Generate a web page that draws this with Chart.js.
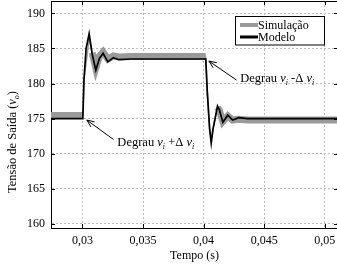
<!DOCTYPE html>
<html>
<head>
<meta charset="utf-8">
<script src="https://cdn.jsdelivr.net/npm/chart.js@4.4.0/dist/chart.umd.min.js"></script>
<style>
  html, body { margin: 0; padding: 0; background: #fff; overflow: hidden; }
  #wrap { width: 340px; height: 268px; }
</style>
</head>
<body>
<div id="wrap"><canvas id="myChart"></canvas></div>
<script>
// values
const timeModel = [0.0270, 0.03003, 0.03012, 0.0303, 0.03055, 0.0308, 0.0311, 0.0314, 0.0317, 0.0321, 0.03255, 0.033, 0.034,
                   0.04018, 0.0403, 0.0405, 0.04063, 0.04078, 0.04115, 0.0413, 0.04159, 0.042, 0.0424, 0.0429, 0.0436, 0.052];
const valuesModel = [175, 175, 180.5, 185, 187.1, 184.2, 181.9, 183.6, 184.3, 183.1, 183.7, 183.4, 183.5,
                     183.5, 179, 173.5, 171.5, 173.5, 176.8, 176.3, 174.5, 175.5, 174.8, 175.15, 175, 175];
const timeSim = [0.0270, 0.03003, 0.03012, 0.03055, 0.0308, 0.0311, 0.0314, 0.0317, 0.0321, 0.03255, 0.033, 0.034,
                 0.04018, 0.0403, 0.0405, 0.04063, 0.04078, 0.04115, 0.0413, 0.04159, 0.042, 0.0424, 0.0429, 0.0436, 0.052];
const valuesSim = [175.45, 175.45, 180.5, 186.4, 184.4, 182.2, 183.9, 184.5, 183.5, 183.95, 183.8, 183.85,
                   183.85, 179, 173.5, 172, 173.6, 176.6, 176.2, 174.6, 175.4, 174.8, 174.9, 174.8, 174.8];
const seriesNames = ['Simulação', 'Modelo'];

const xTicks = [0.03, 0.035, 0.04, 0.045, 0.05];
const xTickLabels = ['0,03', '0,035', '0,04', '0,045', '0,05'];
const yTicks = [160, 165, 170, 175, 180, 185, 190];

// arrows: tip, tail, and where the label starts (data coords)
const arrowTips = [[0.03036, 174.8], [0.04044, 183.2]];
const arrowTails = [[0.03255, 172.05], [0.04272, 180.5]];
const noteAnchors = [[0.03288, 171.1], [0.04303, 180.2]];
const noteSigns = ['+', '-'];

Chart.defaults.font.family = "'Liberation Serif', 'Times New Roman', serif";
Chart.defaults.font.size = 12;
Chart.defaults.color = '#000';

const SERIF = "'Liberation Serif', 'Times New Roman', serif";
const GRAY = '#9a9a9a';

// draw text pieces: n = normal, i = italic, s = italic subscript
function drawRich(c, parts, x, y, measureOnly) {
    let w = 0;
    for (const [txt, kind] of parts) {
        if (kind === 'n') c.font = '12.5px ' + SERIF;
        else if (kind === 'i') c.font = 'italic 12.5px ' + SERIF;
        else c.font = 'italic 8px ' + SERIF;
        if (!measureOnly) c.fillText(txt, x + w, kind === 's' ? y + 3 : y);
        w += c.measureText(txt).width;
    }
    return w;
}

function stepLabel(sign) {
    return [['Degrau ', 'n'], ['v', 'i'], ['i', 's'], [' ' + sign + 'Δ ', 'n'], ['v', 'i'], ['i', 's']];
}

const frame = {
    id: 'frame',
    afterDraw(chart) {
        const c = chart.ctx;
        const a = chart.chartArea;
        const xs = chart.scales.x, ys = chart.scales.y;
        c.save();
        c.strokeStyle = '#000';
        c.lineWidth = 1;
        // top border
        c.beginPath();
        c.moveTo(a.left, a.top + 0.5);
        c.lineTo(a.right, a.top + 0.5);
        c.stroke();
        // inward ticks
        c.beginPath();
        xTicks.forEach(v => {
            const px = Math.round(xs.getPixelForValue(v)) + 0.5;
            c.moveTo(px, a.bottom); c.lineTo(px, a.bottom - 4);
            c.moveTo(px, a.top); c.lineTo(px, a.top + 4);
        });
        yTicks.forEach(v => {
            const py = Math.round(ys.getPixelForValue(v)) + 0.5;
            c.moveTo(a.left, py); c.lineTo(a.left + 4, py);
            c.moveTo(a.right, py); c.lineTo(a.right - 4, py);
        });
        c.stroke();

        // arrows + labels
        c.fillStyle = '#000';
        c.textBaseline = 'alphabetic';
        c.textAlign = 'left';
        for (let k = 0; k < arrowTips.length; k++) {
            const tx = xs.getPixelForValue(arrowTips[k][0]), ty = ys.getPixelForValue(arrowTips[k][1]);
            const sx = xs.getPixelForValue(arrowTails[k][0]), sy = ys.getPixelForValue(arrowTails[k][1]);
            const ang = Math.atan2(ty - sy, tx - sx);
            c.beginPath();
            c.moveTo(sx, sy); c.lineTo(tx, ty);
            c.moveTo(tx - 8 * Math.cos(ang - 0.4), ty - 8 * Math.sin(ang - 0.4));
            c.lineTo(tx, ty);
            c.lineTo(tx - 8 * Math.cos(ang + 0.4), ty - 8 * Math.sin(ang + 0.4));
            c.stroke();
            drawRich(c, stepLabel(noteSigns[k]),
                xs.getPixelForValue(noteAnchors[k][0]), ys.getPixelForValue(noteAnchors[k][1]));
        }

        // legend
        const lx = 235.5, ly = 16.5, lw = 89, lh = 28.5;
        c.fillStyle = '#fff';
        c.fillRect(lx, ly, lw, lh);
        c.strokeRect(lx, ly, lw, lh);
        const dsets = chart.data.datasets;
        [[GRAY, 4, ly + 8.5], ['#000', 3, ly + 20.5]].forEach(([col, w, yy], i) => {
            c.strokeStyle = col;
            c.lineWidth = w;
            c.beginPath();
            c.moveTo(lx + 4.5, yy); c.lineTo(lx + 22.5, yy);
            c.stroke();
            c.fillStyle = '#000';
            c.font = '12px ' + SERIF;
            c.textBaseline = 'middle';
            c.fillText(dsets[i].label, lx + 22.5, yy + 0.5);
        });

        // y title
        const title = [['Tensão de Saída (', 'n'], ['v', 'i'], ['o', 's'], [')', 'n']];
        c.textBaseline = 'alphabetic';
        const tw = drawRich(c, title, 0, 0, true);
        c.translate(16, 142);
        c.rotate(-Math.PI / 2);
        drawRich(c, title, -tw / 2, 0);
        c.restore();
    }
};

function steep(s) {
    return Math.abs(s.p1.y - s.p0.y) > 4.5 * Math.abs(s.p1.x - s.p0.x);
}

const pts = (ts, vs) => ts.map((t, i) => ({ x: t, y: vs[i] }));

new Chart(document.getElementById('myChart'), {
    type: 'line',
    data: {
        datasets: [{
            label: seriesNames[0],
            data: pts(timeSim, valuesSim),
            borderColor: GRAY,
            borderWidth: 7,
            pointRadius: 0,
            order: 2,
            segment: { borderWidth: s => steep(s) ? 1.5 : 7 }
        }, {
            label: seriesNames[1],
            data: pts(timeModel, valuesModel),
            borderColor: '#000',
            borderWidth: 1.7,
            pointRadius: 0,
            order: 1
        }]
    },
    options: {
        animation: false,
        responsive: true,
        maintainAspectRatio: false,
        layout: { padding: { top: 1, right: 2, left: 0, bottom: 0 }, autoPadding: false },
        plugins: { legend: { display: false }, tooltip: { enabled: false } },
        scales: {
            x: {
                type: 'linear',
                min: 0.0274,
                max: 0.0511,
                afterBuildTicks: s => { s.ticks = xTicks.map(v => ({ value: v })); },
                ticks: { callback: (v, i) => xTickLabels[i], maxRotation: 0, autoSkip: false, padding: 6 },
                grid: { color: '#bdbdbd', drawTicks: false },
                border: { color: '#000', width: 1, dash: [2, 2] },
                title: { display: true, text: 'Tempo (s)', padding: { top: 0, bottom: 5 } },
                afterFit: s => { s.height = 40; s.paddingLeft = 0; s.paddingRight = 0; }
            },
            y: {
                min: 159.43,
                max: 191.76,
                afterBuildTicks: s => { s.ticks = yTicks.map(v => ({ value: v })); },
                ticks: { padding: 6 },
                grid: { color: '#bdbdbd', drawTicks: false },
                border: { color: '#000', width: 1, dash: [2, 2] },
                afterFit: s => { s.width = 51; s.paddingTop = 0; s.paddingBottom = 0; }
            }
        }
    },
    plugins: [frame]
});
</script>
</body>
</html>
